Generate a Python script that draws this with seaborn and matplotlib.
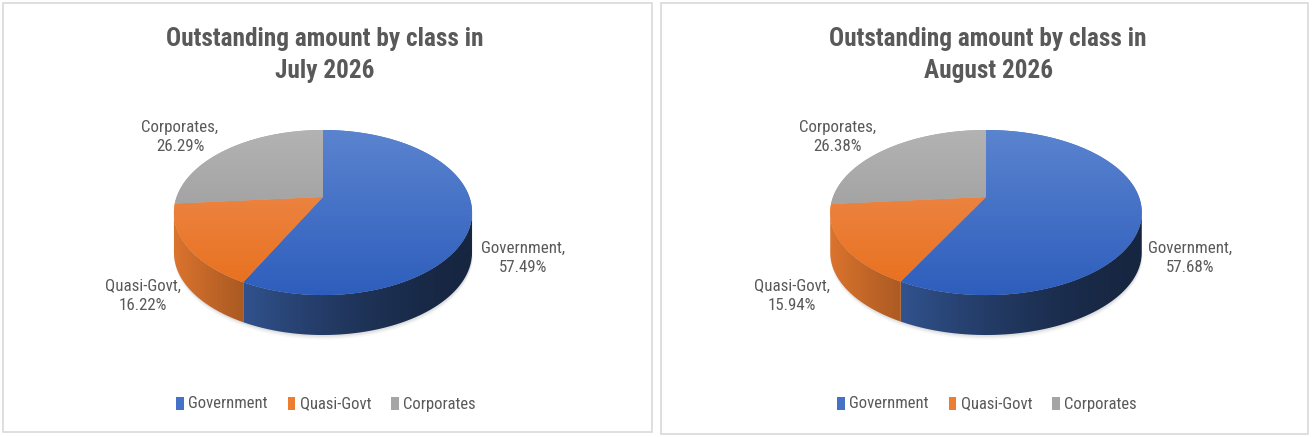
import numpy as np
import matplotlib
matplotlib.use("Agg")
import matplotlib.pyplot as plt
import seaborn as sns
from matplotlib import font_manager
from matplotlib.patches import Polygon, Patch, Rectangle
from matplotlib.colors import LinearSegmentedColormap, to_rgb

categories = ["Government", "Quasi-Govt", "Corporates"]
july_share = [57.49, 16.22, 26.29]
august_share = [57.68, 15.94, 26.38]
months = ["July 2026", "August 2026"]

base_colors = ["#4472C4", "#ED7D31", "#A5A5A5"]
top_grad = [("#5B84CF", "#2E5EBD"), ("#EF9058", "#E86F1C"), ("#B3B3B3", "#929292")]

sns.set_theme(style="white")

# the original uses a narrow (squashed) Calibri, so look for a narrow font
ttf = font_manager.fontManager.ttflist
names = {f.name for f in ttf}
narrow = next((n for n in ["Liberation Sans Narrow", "Roboto Condensed",
                           "Open Sans Condensed", "DejaVu Sans Condensed"] if n in names), None)
if narrow:
    plt.rcParams["font.family"] = [narrow, "DejaVu Sans"]
elif any(f.name == "DejaVu Sans" and f.stretch == "condensed" for f in ttf):
    plt.rcParams["font.family"] = ["DejaVu Sans"]
    plt.rcParams["font.stretch"] = "condensed"
else:
    plt.rcParams["font.family"] = ["Liberation Sans", "DejaVu Sans"]
text_grey = "#595959"

# layout for each panel (local pixel coords)
panels = [
    dict(shares=july_share, cx=323, cy=197, a=146.4, box=(3, 3, 649, 429), tx=325,
         labels=[(523, 258), (143, 296), (180, 137)], leg_x=326),
    dict(shares=august_share, cx=330, cy=197, a=153.0, box=(5, 3, 647, 431), tx=332,
         labels=[(534, 258), (136, 296), (182, 137)], leg_x=331),
]
b, k, depth = 79.6, 0.188, 40


def rim(theta, cx, cy, a, dy=0.0):
    u, v = np.sin(theta), np.cos(theta)
    d = 1 + k * v
    return cx + a * u / d, cy - b * v / d + dy


fig = plt.figure(figsize=(13.12, 4.37), dpi=100)
titles, labels, legends = [], [], []

for i, p in enumerate(panels):
    ax = fig.add_axes([i * 0.5, 0, 0.5, 1])
    ax.set_xlim(0, 656)
    ax.set_ylim(437, 0)
    ax.axis("off")

    x0, y0, w, h = p["box"]
    ax.add_patch(Rectangle((x0, y0), w, h, fill=False, edgecolor="#D9D9D9", lw=1.2))

    cx, cy, a = p["cx"], p["cy"], p["a"]
    shares = np.array(p["shares"])
    bounds = np.concatenate([[0], np.cumsum(shares) / shares.sum()]) * 2 * np.pi
    vis0, vis1 = np.arccos(-k), 2 * np.pi - np.arccos(-k)
    ytop, ybot = cy - b / (1 + k), cy + b / (1 - k)

    # soft shadow under the front rim
    th = np.linspace(vis0, vis1, 200)
    sx, sy = rim(th, cx, cy, a, depth)
    for off, al in [(4, 0.05), (2.5, 0.08), (1.2, 0.12)]:
        ax.fill_between(sx, sy - 2, sy + off, color="#7F7F7F", alpha=al, lw=0)

    # side walls, darker to the right
    tx = np.linspace(0, 1, 300)
    shade = 0.33 + 0.6 * (1 - tx) ** 1.6
    for j in range(len(shares)):
        t0, t1 = max(bounds[j], vis0), min(bounds[j + 1], vis1)
        if t1 <= t0:
            continue
        th = np.linspace(t0, t1, 150)
        xs, ys = rim(th, cx, cy, a)
        verts = np.column_stack([np.r_[xs, xs[::-1]], np.r_[ys, ys[::-1] + depth]])
        side = Polygon(verts, closed=True, facecolor="none", edgecolor="none")
        ax.add_patch(side)
        img = (np.array(to_rgb(base_colors[j]))[None, None, :] * shade[None, :, None])
        im = ax.imshow(img, aspect="auto", interpolation="bilinear",
                       extent=(cx - a * 1.03, cx + a * 1.03, ybot + depth + 5, cy - 10),
                       zorder=1.5)
        im.set_clip_path(side)

    # top face
    grad = np.linspace(0, 1, 256).reshape(-1, 1)
    for j in range(len(shares)):
        th = np.linspace(bounds[j], bounds[j + 1], 200)
        xs, ys = rim(th, cx, cy, a)
        verts = np.column_stack([np.r_[cx, xs], np.r_[cy, ys]])
        poly = Polygon(verts, closed=True, facecolor=base_colors[j], edgecolor="none")
        ax.add_patch(poly)
        cmap = LinearSegmentedColormap.from_list("g%d" % j, top_grad[j])
        im = ax.imshow(grad, cmap=cmap, aspect="auto", interpolation="bilinear",
                       extent=(cx - a * 1.1, cx + a * 1.1, ybot, ytop), zorder=2)
        im.set_clip_path(poly)

    ax.set_xlim(0, 656)
    ax.set_ylim(437, 0)

    for j, (lx, ly) in enumerate(p["labels"]):
        labels.append(ax.text(lx, ly, f"{categories[j]},\n{shares[j]:.2f}%", ha="center",
                              va="center", fontsize=11.5, color=text_grey, linespacing=1.35,
                              zorder=5))

    titles.append(ax.text(p["tx"], 55, f"Outstanding amount by class in\n{months[i]}",
                          ha="center", va="center", fontsize=17, fontweight="bold",
                          color=text_grey, linespacing=1.4))

    handles = [Patch(facecolor=c, edgecolor="none") for c in base_colors]
    legends.append(ax.legend(handles, categories, loc="center",
                             bbox_to_anchor=(p["leg_x"] / 656, 1 - 404 / 437),
                             ncol=3, frameon=False, fontsize=11, handlelength=0.5,
                             handleheight=0.9, handletextpad=0.3, columnspacing=1.3,
                             labelcolor=text_grey))

# size the text so its width matches the original
fig.canvas.draw()
r = fig.canvas.get_renderer()
tw = titles[0].get_window_extent(r).width
for t in titles:
    t.set_fontsize(17 * 318 / tw)
gw = labels[0].get_window_extent(r).width
for t in labels:
    t.set_fontsize(11.5 * 84 / gw)
lw_ = legends[0].get_texts()[0].get_window_extent(r).width
for lg in legends:
    for t in lg.get_texts():
        t.set_fontsize(11 * 79 / lw_)

fig.savefig("out.png", dpi=100, facecolor="white")
